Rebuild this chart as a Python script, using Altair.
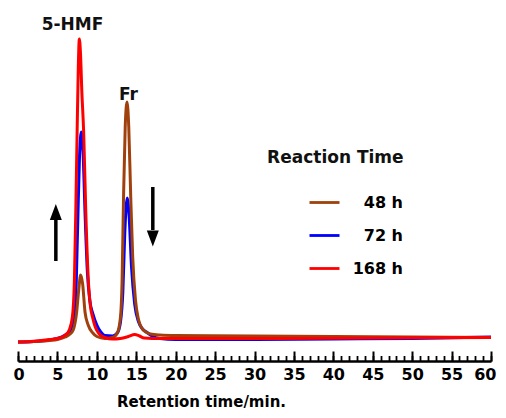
import altair as alt
import pandas as pd

FONT = "DejaVu Sans"

series_names = ["48 h", "72 h", "168 h"]
series_colors = ["#A0410D", "#0000FF", "#FF0000"]

# 48 h (brown)
t_48 = [0, 2, 4, 5, 6, 6.6, 7.0, 7.44, 7.7, 7.95, 8.2, 8.5, 8.9, 9.5, 10, 11, 12, 12.6, 13.0, 13.2, 13.4,
        13.6, 13.83, 14.05, 14.3, 14.55, 14.9, 15.3, 15.7, 16.2, 16.8, 18, 20, 30, 40, 50, 60]
s_48 = [0, 0.5, 1.5, 2.5, 5, 8, 12, 30, 52, 67, 58, 30, 17, 9, 5.5, 3.5, 4.5, 9, 25, 60, 150,
        215, 240, 215, 145, 85, 42, 22, 14, 10, 8, 7, 6.5, 6, 5.5, 5, 4.5]

# 72 h (blue)
t_72 = [0, 2, 4, 5, 6, 6.6, 7.0, 7.3, 7.55, 7.8, 8.03, 8.25, 8.5, 8.8, 9.1, 9.5, 10, 10.5, 11, 12, 12.6,
        13.0, 13.3, 13.55, 13.85, 14.1, 14.4, 14.8, 15.3, 15.8, 16.3, 17, 18, 20, 30, 40, 50, 60]
s_72 = [0, 0.5, 2, 3.5, 7, 11, 20, 40, 110, 185, 210, 190, 130, 70, 42, 28, 17, 10, 6.5, 6, 9,
        20, 50, 110, 144, 125, 75, 38, 20, 13, 10, 6, 3.5, 2.5, 2.5, 3, 3.5, 5]

# 168 h (red)
t_168 = [0, 2, 4, 5.3, 6.0, 6.5, 6.9, 7.15, 7.35, 7.5, 7.65, 7.78, 7.92, 8.1, 8.33, 8.6, 8.9, 9.2, 9.45,
         9.8, 10.3, 11, 12, 13, 14, 14.8, 15.4, 16, 18, 30, 45, 60]
s_168 = [0, 0.8, 2.5, 4, 7, 12, 25, 60, 140, 210, 275, 303, 290, 250, 210, 130, 65, 35, 25,
         15, 8, 4.5, 3, 3.5, 5.5, 7.5, 6, 4, 3.5, 3.5, 4, 4.5]

# axis ticks
major_ticks = list(range(0, 61, 5))
minor_ticks = list(range(0, 61))

# annotations
peak_labels = ["5-HMF", "Fr"]
peak_label_t = [6.92, 14.0]
peak_label_s = [312, 242]

legend_title = "Reaction Time"
legend_title_t = [31.6]
legend_title_s = [179]

arrow_dir = ["up", "down"]
arrow_t = [4.8, 17.1]
arrow_tail = [81, 155]
arrow_head_base = [122, 112]
arrow_head_mid = [130, 103.5]

rows = []
for name, ts, ss in [("72 h", t_72, s_72), ("48 h", t_48, s_48), ("168 h", t_168, s_168)]:
    for t, s in zip(ts, ss):
        rows.append({"series": name, "t": t, "s": s})
df = pd.DataFrame(rows)

arrows_df = pd.DataFrame({"dir": arrow_dir, "t": arrow_t, "tail": arrow_tail,
                          "base": arrow_head_base, "mid": arrow_head_mid})
labels_df = pd.DataFrame({"text": peak_labels, "t": peak_label_t, "s": peak_label_s})
ltitle_df = pd.DataFrame({"text": [legend_title], "t": legend_title_t, "s": legend_title_s})

x_scale = alt.Scale(domain=[0, 60], nice=False, zero=False)
y_scale = alt.Scale(domain=[-19, 334], nice=False, zero=False)

main_axis = alt.Axis(values=major_ticks, orient="bottom", domain=True, domainColor="black",
                     domainWidth=2.5, ticks=False, tickSize=0, labels=True, labelFont=FONT,
                     labelFontSize=16, labelFontWeight="bold", labelColor="black", labelPadding=5,
                     labelFlush=True, labelFlushOffset=5, labelOverlap=False,
                     labelAngle=0, grid=False, title="Retention time/min.", titleFont=FONT,
                     titleFontSize=15, titleFontWeight="bold", titleColor="black", titleX=183,
                     titleY=45, titleAlign="center", titleBaseline="alphabetic")
major_axis = alt.Axis(values=major_ticks, orient="bottom", offset=-10, tickSize=10, tickWidth=2,
                      tickColor="black", domain=False, labels=False, grid=False, title=None)
minor_axis = alt.Axis(values=minor_ticks, orient="bottom", offset=-5.5, tickSize=5.5, tickWidth=1.8,
                      tickColor="black", domain=False, labels=False, grid=False, title=None)

curves = alt.Chart(df).mark_line(interpolate="monotone", strokeWidth=3).encode(
    x=alt.X("t:Q", scale=x_scale, axis=main_axis),
    y=alt.Y("s:Q", scale=y_scale, axis=None),
    color=alt.Color("series:N", sort=series_names,
                    scale=alt.Scale(domain=series_names, range=series_colors),
                    legend=alt.Legend(title=None, orient="none", legendX=290, legendY=178,
                                      symbolType="stroke", symbolSize=900, symbolStrokeWidth=2.8,
                                      labelFont=FONT, labelFontSize=16, labelFontWeight="bold",
                                      labelColor="black", labelAlign="right", labelOffset=62,
                                      rowPadding=8, padding=0)),
)

arrow_shafts = alt.Chart(arrows_df).mark_rule(color="black", strokeWidth=3.5).encode(
    x=alt.X("t:Q", scale=x_scale, axis=major_axis),
    y=alt.Y("tail:Q", scale=y_scale, axis=None),
    y2="base:Q",
)

up_path = "M0,-1L0.75,1L-0.75,1Z"
down_path = "M0,1L0.75,-1L-0.75,-1Z"
arrow_heads = alt.Chart(arrows_df).mark_point(filled=True, size=256, color="black", opacity=1,
                                              strokeWidth=0).encode(
    x=alt.X("t:Q", scale=x_scale, axis=None),
    y=alt.Y("mid:Q", scale=y_scale, axis=None),
    shape=alt.Shape("dir:N", scale=alt.Scale(domain=["up", "down"], range=[up_path, down_path]),
                    legend=None),
)

peak_text = alt.Chart(labels_df).mark_text(font=FONT, fontSize=17, fontWeight="bold", color="#111111",
                                           align="center", baseline="alphabetic").encode(
    x=alt.X("t:Q", scale=x_scale, axis=minor_axis),
    y=alt.Y("s:Q", scale=y_scale, axis=None),
    text="text:N",
)

ltitle_text = alt.Chart(ltitle_df).mark_text(font=FONT, fontSize=17, fontWeight="bold", color="#111111",
                                             align="left", baseline="alphabetic").encode(
    x=alt.X("t:Q", scale=x_scale, axis=None),
    y=alt.Y("s:Q", scale=y_scale, axis=None),
    text="text:N",
)

chart = alt.layer(curves, arrow_shafts, arrow_heads, peak_text, ltitle_text).resolve_scale(
    x="shared", y="shared"
).resolve_axis(x="independent").properties(
    width=473, height=353,
    padding={"left": 10, "top": 0, "right": 7, "bottom": 49},
    autosize=alt.AutoSizeParams(type="none"),
).configure_view(stroke=None)

chart.save("out.html", embed_options={"renderer": "svg", "actions": False})
